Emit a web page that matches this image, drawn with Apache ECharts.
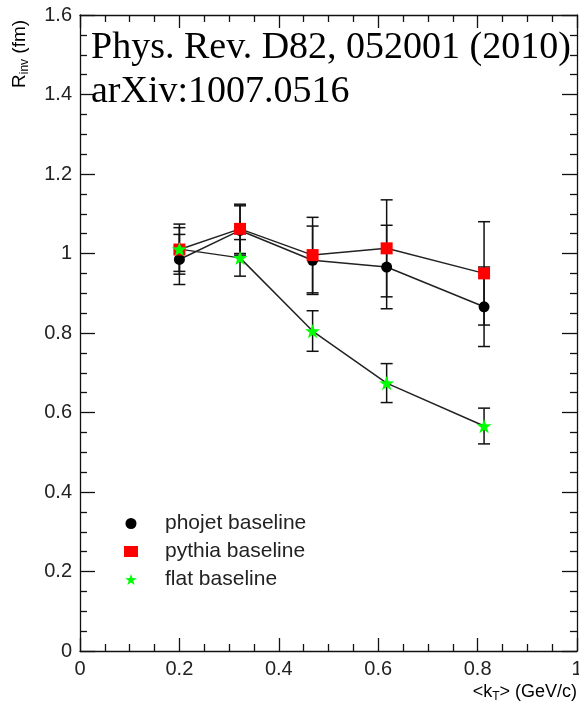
<!DOCTYPE html>
<html>
<head>
<meta charset="utf-8">
<script src="https://cdn.jsdelivr.net/npm/echarts@6/dist/echarts.min.js"></script>
<style>
html, body { margin: 0; padding: 0; background: #fff; }
#chart { width: 579px; height: 713px; }
</style>
</head>
<body>
<div id="chart"></div>
<script>
// <kT> bins (GeV/c)
var kt = [0.2, 0.322, 0.468, 0.617, 0.813];
// Rinv (fm) and errors
var phojet    = [0.985, 1.058, 0.983, 0.966, 0.866];
var phojetErr = [0.063, 0.062, 0.086, 0.105, 0.100];
var pythia    = [1.010, 1.062, 0.996, 1.013, 0.950];
var pythiaErr = [0.055, 0.062, 0.095, 0.122, 0.130];
var flat      = [1.011, 0.989, 0.805, 0.674, 0.566];
var flatErr   = [0.063, 0.046, 0.051, 0.049, 0.045];
var seriesNames = ['phojet baseline', 'pythia baseline', 'flat baseline'];

var chart = echarts.init(document.getElementById('chart'));
var star = 'path://M0,-10L2.35,-3.24L9.51,-3.09L3.8,1.24L5.88,8.09L0,4L-5.88,8.09L-3.8,1.24L-9.51,-3.09L-2.35,-3.24Z';
var ink = '#111';
var txt = '#222';

function points(y) {
	return kt.map(function(x, i) { return [x, y[i]]; });
}
function errData(y, e) {
	return kt.map(function(x, i) { return [x, y[i] - e[i], y[i] + e[i]]; });
}
function renderErr(params, api) {
	var top = api.coord([api.value(0), api.value(2)]);
	var bot = api.coord([api.value(0), api.value(1)]);
	var w = 6;
	var st = {stroke: ink, lineWidth: 1.5};
	return {
		type: 'group',
		children: [
			{type: 'line', shape: {x1: top[0], y1: top[1], x2: bot[0], y2: bot[1]}, style: st},
			{type: 'line', shape: {x1: top[0] - w, y1: top[1], x2: top[0] + w, y2: top[1]}, style: st},
			{type: 'line', shape: {x1: bot[0] - w, y1: bot[1], x2: bot[0] + w, y2: bot[1]}, style: st}
		]
	};
}
function valueAxis(pos, max, showLabel, tickLen) {
	return {
		type: 'value',
		position: pos,
		min: 0,
		max: max,
		interval: 0.2,
		axisLine: {show: true, onZero: false, lineStyle: {color: ink, width: 1.3}},
		axisTick: {show: true, inside: true, length: tickLen, lineStyle: {color: ink, width: 1.3}},
		minorTick: {show: true, splitNumber: 4, length: 7, lineStyle: {color: ink, width: 1.3}},
		splitLine: {show: false},
		axisLabel: {show: showLabel, color: txt, fontSize: 20, fontFamily: 'Liberation Sans', margin: 8}
	};
}
function errSeries(y, e) {
	return {type: 'custom', renderItem: renderErr, data: errData(y, e), z: 1, silent: true};
}
function lineSeries(name, y, symbol, size, color) {
	return {
		name: name,
		type: 'line',
		data: points(y),
		symbol: symbol,
		symbolSize: size,
		symbolKeepAspect: true,
		itemStyle: {color: color},
		lineStyle: {color: '#222', width: 1.5},
		z: 3
	};
}

var option = {
	animation: false,
	grid: {left: 80, right: 2, top: 15, bottom: 62, outerBoundsMode: 'none'},
	title: {
		text: 'Phys. Rev. D82, 052001 (2010)\narXiv:1007.0516',
		left: 91,
		top: 26,
		padding: 0,
		textStyle: {fontFamily: 'Liberation Serif', fontSize: 38, fontWeight: 'normal', color: '#000', lineHeight: 44}
	},
	legend: {
		orient: 'vertical',
		left: 124,
		top: 513,
		padding: 0,
		itemWidth: 14,
		itemHeight: 11,
		itemGap: 7,
		textStyle: {fontFamily: 'Liberation Sans', fontSize: 21, color: txt, padding: [0, 0, 0, 22], lineHeight: 20},
		data: [
			{name: seriesNames[0], icon: 'circle'},
			{name: seriesNames[1], icon: 'rect'},
			{name: seriesNames[2], icon: star}
		]
	},
	xAxis: [valueAxis('bottom', 1, true, 13), valueAxis('top', 1, false, 13)],
	yAxis: [valueAxis('left', 1.6, true, 15), valueAxis('right', 1.6, false, 15)],
	graphic: [
		{
			type: 'text', x: 20, y: 88, rotation: Math.PI / 2,
			style: {
				text: '{a|R}{b|inv}{a| (fm)}',
				align: 'left', verticalAlign: 'middle',
				rich: {
					a: {fontFamily: 'Liberation Sans', fontSize: 19, color: txt, lineHeight: 22},
					b: {fontFamily: 'Liberation Sans', fontSize: 12, color: txt, lineHeight: 10, verticalAlign: 'bottom'}
				}
			}
		},
		{
			type: 'text', x: 577, y: 692,
			style: {
				text: '{a|<k}{b|T}{a|> (GeV/c)}',
				align: 'right', verticalAlign: 'middle',
				rich: {
					a: {fontFamily: 'Liberation Sans', fontSize: 18, color: txt, lineHeight: 22},
					b: {fontFamily: 'Liberation Sans', fontSize: 12, color: txt, lineHeight: 10, verticalAlign: 'bottom'}
				}
			}
		}
	],
	series: [
		errSeries(phojet, phojetErr),
		errSeries(pythia, pythiaErr),
		errSeries(flat, flatErr),
		lineSeries(seriesNames[0], phojet, 'circle', 11, '#000'),
		lineSeries(seriesNames[1], pythia, 'rect', 12, '#ff0000'),
		lineSeries(seriesNames[2], flat, star, 15, '#00ff00')
	]
};
chart.setOption(option);
</script>
</body>
</html>
